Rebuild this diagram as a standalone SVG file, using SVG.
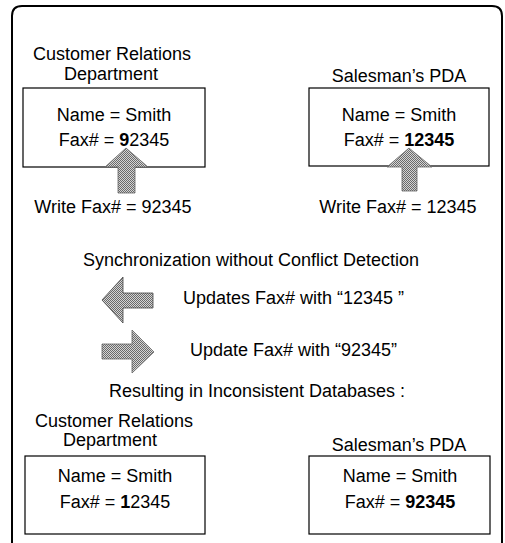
<svg xmlns="http://www.w3.org/2000/svg" width="505" height="543" viewBox="0 0 505 543">
<style>
text{font-family:"Liberation Sans",Arial,sans-serif;font-size:18px;fill:#000}
.c{text-anchor:middle}
.box{fill:#fff;stroke:#000;stroke-width:1.2}
.arr{fill:url(#dither);stroke:#666;stroke-width:0.8}
b,.b{font-weight:bold}
</style>
<defs>
<pattern id="dither" patternUnits="userSpaceOnUse" width="2" height="2">
<rect width="2" height="2" fill="#d4d4d4"/>
<rect width="1" height="1" fill="#6a6a6a"/>
<rect x="1" y="1" width="1" height="1" fill="#6a6a6a"/>
</pattern>
</defs>
<rect width="505" height="543" fill="#fff"/>
<path d="M12,543 V16 Q12,6 22,6 H492 Q502,6 502,16 V543" fill="none" stroke="#000" stroke-width="2"/>

<g id="crd-top">
<text class="c" x="112" y="60">Customer Relations</text>
<text class="c" x="111" y="80">Department</text>
<rect class="box" x="23" y="88" width="182" height="79"/>
<text class="c" x="114" y="121">Name = Smith</text>
<text class="c" x="114" y="146">Fax# = <tspan class="b">9</tspan>2345</text>
</g>

<g id="pda-top">
<text class="c" x="399" y="82">Salesman’s PDA</text>
<rect class="box" x="309" y="88" width="180" height="78"/>
<text class="c" x="399" y="121">Name = Smith</text>
<text class="c" x="399" y="146">Fax# = <tspan class="b">12345</tspan></text>
</g>

<g id="write-left">
<path class="arr" d="M126,148 L148,167 L135,167 L135,193 L118,193 L118,167 L105,167 Z"/>
<text class="c" x="113" y="213">Write Fax# = 92345</text>
</g>

<g id="write-right">
<path class="arr" d="M409,148 L432,167 L417,167 L417,191 L402,191 L402,167 L387,167 Z"/>
<text class="c" x="398" y="213">Write Fax# = 12345</text>
</g>

<g id="sync-title">
<text class="c" x="251" y="266">Synchronization without Conflict Detection</text>
</g>

<g id="connectors">
<path class="arr" style="stroke:#444" d="M102,300 L123,277 L123,293 L153,293 L153,308 L123,308 L123,323 Z"/>
<path class="arr" d="M154,352 L132,330 L132,344 L102,344 L102,359 L132,359 L132,373 Z"/>
</g>

<g id="sync-labels">
<text x="183" y="304">Updates Fax# with “12345 ”</text>
<text x="190" y="356">Update Fax# with “92345”</text>
<text class="c" x="257" y="397">Resulting in Inconsistent Databases :</text>
</g>

<g id="crd-bottom">
<text class="c" x="114" y="427">Customer Relations</text>
<text class="c" x="110" y="446">Department</text>
<rect class="box" x="25" y="456" width="180" height="78"/>
<text class="c" x="115" y="482">Name = Smith</text>
<text class="c" x="115" y="508">Fax# = <tspan class="b">1</tspan>2345</text>
</g>

<g id="pda-bottom">
<text class="c" x="399" y="451">Salesman’s PDA</text>
<rect class="box" x="309" y="456" width="181" height="78"/>
<text class="c" x="400" y="482">Name = Smith</text>
<text class="c" x="400" y="508">Fax# = <tspan class="b">92345</tspan></text>
</g>
</svg>
